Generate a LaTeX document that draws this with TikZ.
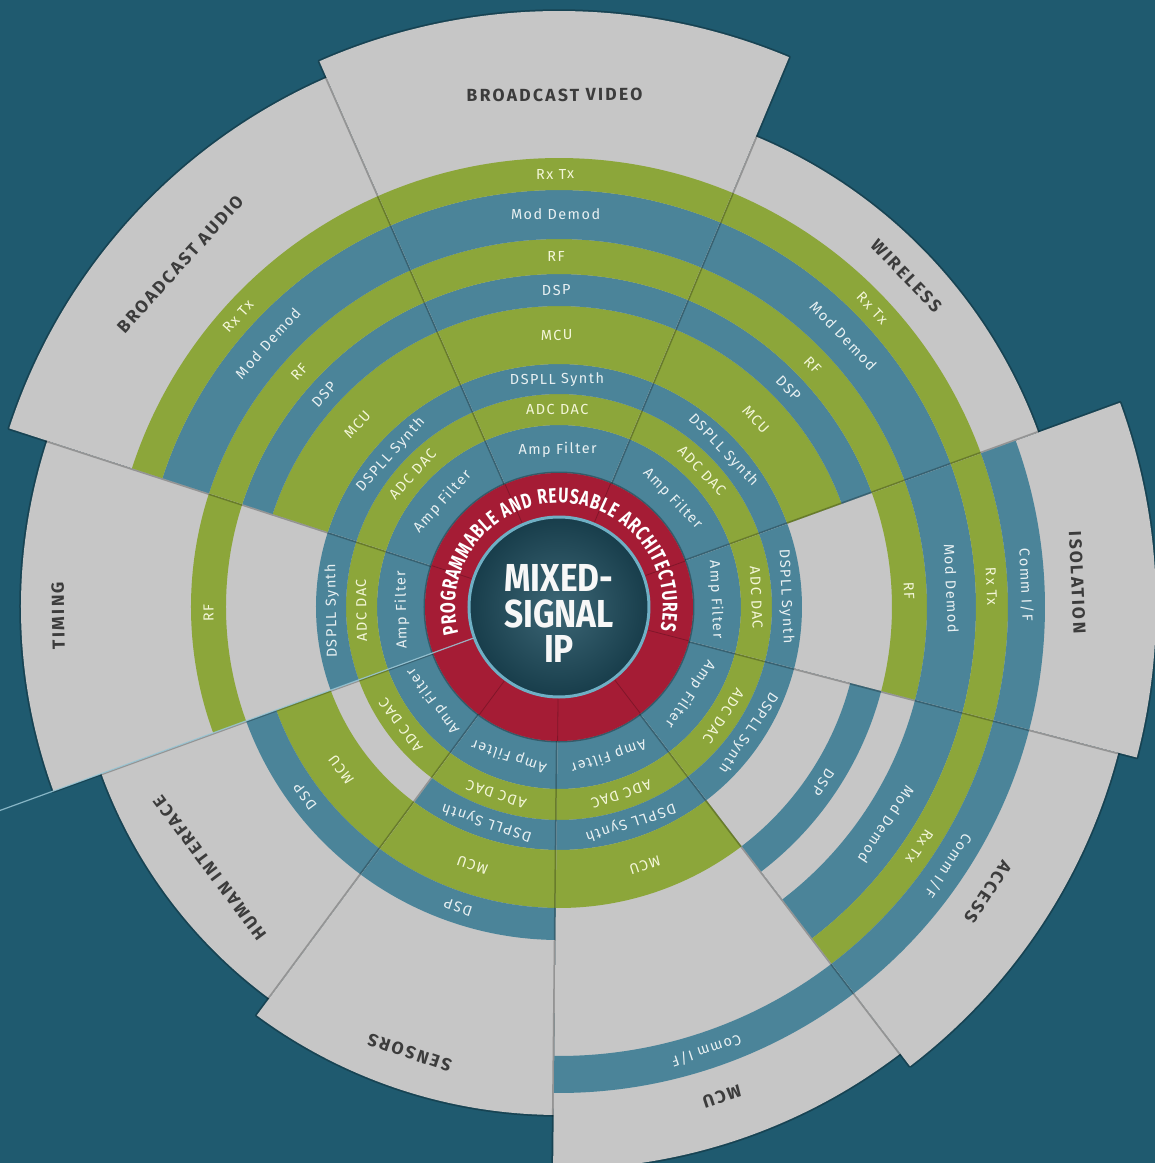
\documentclass[tikz,border=0pt]{standalone}
\usepackage{fontspec}
\setmainfont{Fira Sans}
\setsansfont{Fira Sans}
\newfontfamily\bandfont{Fira Sans}[LetterSpace=10]
\newfontfamily\titlefont{Fira Sans}[LetterSpace=13]
\newfontfamily\ringfont{Fira Sans}[FakeStretch=0.74]
\newfontfamily\corefont{Fira Sans}[FakeStretch=0.86]
\usetikzlibrary{decorations.text}

\definecolor{bgc}{HTML}{1F5A6F}
\definecolor{greyc}{HTML}{C6C6C6}
\definecolor{bluec}{HTML}{4B8499}
\definecolor{greenc}{HTML}{8CA63A}
\definecolor{redc}{HTML}{A51C35}
\definecolor{darkc}{HTML}{1E4D5E}
\definecolor{rimc}{HTML}{6FAFC4}
\definecolor{titlec}{HTML}{3C3C3C}
\definecolor{btext}{HTML}{E8F0F2}
\definecolor{gtext}{HTML}{F3F6D8}

\newcommand\ringseg[5]{\fill[#5] (#1:#3pt) arc[start angle=#1,end angle=#2,radius=#3pt] -- (#2:#4pt) arc[start angle=#2,end angle=#1,radius=#4pt] -- cycle;}
\newcommand\bandlabel[5]{\node[blbl, text=#4, rotate=#2-90] (#1) at (#2:#3pt) {#5};}
\newcommand\bAmp[4]{\ringseg{#1}{#2}{134}{182}{bluec}\bandlabel{#4a}{#3}{158}{btext}{Amp Filter}}
\newcommand\bAdc[4]{\ringseg{#1}{#2}{182}{213}{greenc}\bandlabel{#4b}{#3}{197.5}{gtext}{ADC DAC}}
\newcommand\bPll[4]{\ringseg{#1}{#2}{213}{243}{bluec}\bandlabel{#4c}{#3}{228}{btext}{DSPLL Synth}}
\newcommand\bMcu[4]{\ringseg{#1}{#2}{243}{301}{greenc}\bandlabel{#4d}{#3}{272}{gtext}{MCU}}
\newcommand\bDsp[4]{\ringseg{#1}{#2}{301}{333}{bluec}\bandlabel{#4e}{#3}{317}{btext}{DSP}}
\newcommand\bRf[4]{\ringseg{#1}{#2}{333}{368}{greenc}\bandlabel{#4f}{#3}{350.5}{gtext}{RF}}
\newcommand\bMod[4]{\ringseg{#1}{#2}{368}{417}{bluec}\bandlabel{#4g}{#3}{392.5}{btext}{Mod Demod}}
\newcommand\bRx[4]{\ringseg{#1}{#2}{417}{449}{greenc}\bandlabel{#4h}{#3}{433}{gtext}{Rx Tx}}
\newcommand\bComm[4]{\ringseg{#1}{#2}{449}{486}{bluec}\bandlabel{#4i}{#3}{467.5}{btext}{Comm I/F}}
\newcommand\fansector[3]{%
  \draw[black,opacity=0.25,line width=3.5pt,line join=round] (0,0) -- (#1:#3pt) arc[start angle=#1,end angle=#2,radius=#3pt] -- cycle;
  \fill[greyc] (0,0) -- (#1:#3pt) arc[start angle=#1,end angle=#2,radius=#3pt] -- cycle;}
\newcommand\sectitle[4]{\node[ttl, rotate=#2-90] (#1) at (#2:#3pt) {#4};}
\newcommand\ringfmt{\ringfont\bfseries\fontsize{21}{21}\selectfont\color{white}}

\begin{document}
\begin{tikzpicture}[x=1pt,y=1pt,
  blbl/.style={font=\bandfont\fontsize{14.5}{14.5}\selectfont, inner sep=0pt, text height=10pt, text depth=0pt},
  ttl/.style={font=\titlefont\bfseries\fontsize{17.5}{17.5}\selectfont, text=titlec, inner sep=0pt, text height=12.2pt, text depth=0pt}]
\useasboundingbox (-559pt,-556pt) rectangle (596pt,607pt);
\fill[bgc] (-559pt,-556pt) rectangle (596pt,607pt);

% Human Interface
\fansector{200}{233.5}{487}
\bAmp{200}{233.5}{216.75}{hi}\bAdc{200}{233.5}{216.75}{hi}\bMcu{200}{233.5}{216.75}{hi}\bDsp{200}{233.5}{216.75}{hi}
\sectitle{hit}{216.75}{436}{HUMAN INTERFACE}
% Sensors
\fansector{233.5}{269.4}{508}
\bAmp{233.5}{269.4}{251.45}{se}\bAdc{233.5}{269.4}{251.45}{se}\bPll{233.5}{269.4}{251.45}{se}\bMcu{233.5}{269.4}{251.45}{se}\bDsp{233.5}{269.4}{251.45}{se}
\sectitle{set}{251.45}{470}{SENSORS}
% MCU
\fansector{269.4}{307.4}{562}
\bAmp{269.4}{307.4}{288.4}{mc}\bAdc{269.4}{307.4}{288.4}{mc}\bPll{269.4}{307.4}{288.4}{mc}\bMcu{269.4}{307.4}{288.4}{mc}\bComm{269.4}{307.4}{288.4}{mc}
\sectitle{mct}{288.4}{516}{MCU}
% Access
\fansector{307.4}{345.4}{578}
\bAmp{307.4}{345.4}{326.4}{ac}\bAdc{307.4}{345.4}{326.4}{ac}\bPll{307.4}{345.4}{326.4}{ac}\bDsp{307.4}{345.4}{326.4}{ac}\bMod{307.4}{345.4}{326.4}{ac}\bRx{307.4}{345.4}{326.4}{ac}\bComm{307.4}{345.4}{326.4}{ac}
\sectitle{act}{326.4}{515}{ACCESS}
% Wireless
\fansector{20}{67.3}{510}
\bAmp{20}{67.3}{43.65}{wi}\bAdc{20}{67.3}{43.65}{wi}\bPll{20}{67.3}{43.65}{wi}\bMcu{20}{67.3}{43.65}{wi}\bDsp{20}{67.3}{43.65}{wi}\bRf{20}{67.3}{43.65}{wi}\bMod{20}{67.3}{43.65}{wi}\bRx{20}{67.3}{43.65}{wi}
\sectitle{wit}{43.65}{480}{WIRELESS}
% Isolation
\fansector{-14.6}{20}{597}
\bAmp{-14.6}{20}{2.7}{is}\bAdc{-14.6}{20}{2.7}{is}\bPll{-14.6}{20}{2.7}{is}\bRf{-14.6}{20}{2.7}{is}\bMod{-14.6}{20}{2.7}{is}\bRx{-14.6}{20}{2.7}{is}\bComm{-14.6}{20}{2.7}{is}
\sectitle{ist}{2.7}{519}{ISOLATION}
% Timing
\fansector{162}{200}{538}
\bAmp{162}{200}{181}{ti}\bAdc{162}{200}{181}{ti}\bPll{162}{200}{181}{ti}\bRf{162}{200}{181}{ti}
\sectitle{tit}{181}{501}{TIMING}
% Broadcast Audio
\fansector{113.7}{162}{578}
\bAmp{113.7}{162}{137.85}{ba}\bAdc{113.7}{162}{137.85}{ba}\bPll{113.7}{162}{137.85}{ba}\bMcu{113.7}{162}{137.85}{ba}\bDsp{113.7}{162}{137.85}{ba}\bRf{113.7}{162}{137.85}{ba}\bMod{113.7}{162}{137.85}{ba}\bRx{113.7}{162}{137.85}{ba}
\sectitle{bat}{137.85}{511}{BROADCAST AUDIO}
% Broadcast Video
\fansector{67.3}{113.7}{596}
\bAmp{67.3}{113.7}{90.5}{bv}\bAdc{67.3}{113.7}{90.5}{bv}\bPll{67.3}{113.7}{90.5}{bv}\bMcu{67.3}{113.7}{90.5}{bv}\bDsp{67.3}{113.7}{90.5}{bv}\bRf{67.3}{113.7}{90.5}{bv}\bMod{67.3}{113.7}{90.5}{bv}\bRx{67.3}{113.7}{90.5}{bv}
\sectitle{bvt}{90.5}{512}{BROADCAST VIDEO}

% red ring
\draw[black,opacity=0.3,line width=3pt] (0,0) circle[radius=134pt];
\fill[redc] (0,0) circle[radius=134pt];
\foreach \a in {20,67.3,113.7,162,233.5,269.4,307.4,345.4}
  \draw[redc!60!black,opacity=0.55,line width=0.8pt] (\a:92pt) -- (\a:134pt);
\path[decorate,decoration={text along path,text={|\ringfmt|PROGRAMMABLE AND REUSABLE ARCHITECTURES},text align=fit to path}]
  (195:104pt) arc[start angle=195,end angle=-13,radius=104pt];

% centre
\shade[inner color=darkc!85!white!90!bgc,outer color=darkc!80!black] (0,0) circle[radius=89pt];
\draw[rimc,line width=3pt] (0,0) circle[radius=90pt];
\coordinate (lineA) at (200:91pt);
\coordinate (lineB) at (200:640pt);
\draw[rimc!70!white,line width=1.2pt,opacity=0.85] (lineA) -- (lineB);
\node[font=\corefont\bfseries\fontsize{39}{35.5}\selectfont,text=white!94!gray,align=center,inner sep=0pt] (core) at (0,-6.5pt) {MIXED-\\SIGNAL\\IP};
\end{tikzpicture}
\end{document}
